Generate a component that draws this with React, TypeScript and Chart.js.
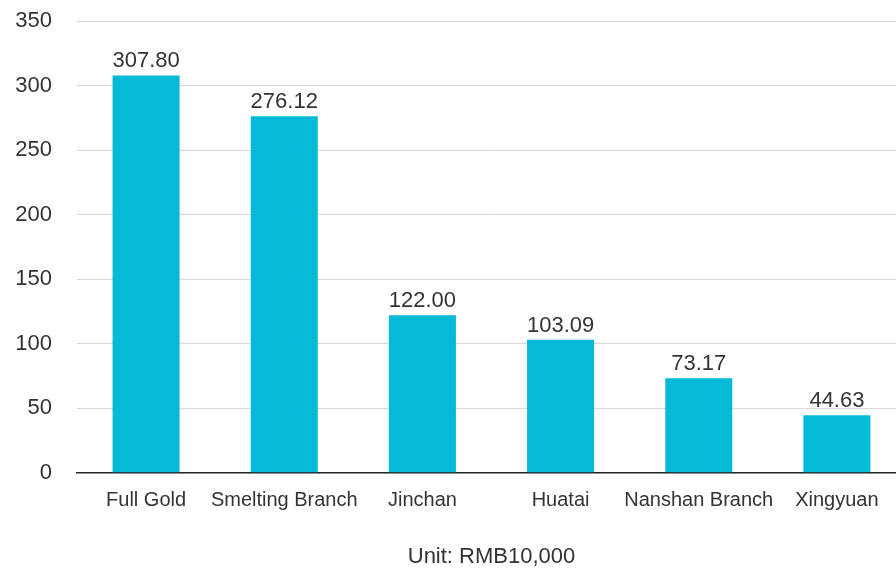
import React, { useEffect, useRef } from "react";
import { Chart, registerables } from "chart.js";

Chart.register(...registerables);

const categories = ["Full Gold", "Smelting Branch", "Jinchan", "Huatai", "Nanshan Branch", "Xingyuan"];
const values = [307.8, 276.12, 122.0, 103.09, 73.17, 44.63];
const yTicks = [0, 50, 100, 150, 200, 250, 300, 350];
const axisTitle = "Unit: RMB10,000";

const FONT = "'Liberation Sans', Arial, Helvetica, sans-serif";

const valueLabels = {
  id: "valueLabels",
  afterDatasetsDraw(chart: any) {
    const ctx = chart.ctx;
    const meta = chart.getDatasetMeta(0);
    ctx.save();
    ctx.font = `22px ${FONT}`;
    ctx.fillStyle = "#333333";
    ctx.textAlign = "center";
    ctx.textBaseline = "alphabetic";
    meta.data.forEach((bar: any, i: number) => {
      ctx.fillText(values[i].toFixed(2), bar.x, bar.y - 8);
    });
    ctx.restore();
  },
};

export default function App() {
  const ref = useRef<HTMLCanvasElement>(null);
  useEffect(() => {
    const chart = new Chart(ref.current!, {
      type: "bar",
      data: {
        labels: categories,
        datasets: [
          {
            data: values,
            backgroundColor: "#05BAD6",
            categoryPercentage: 1,
            barPercentage: 0.485,
          },
        ],
      },
      options: {
        animation: false,
        responsive: false,
        layout: { padding: { top: 21, right: 0, left: 0, bottom: 0 } },
        plugins: { legend: { display: false }, tooltip: { enabled: false } },
        scales: {
          x: {
            grid: { display: false, drawTicks: false },
            border: { display: true, color: "#222222", width: 1.5 },
            ticks: {
              color: "#333333",
              font: { family: FONT, size: 20 },
              padding: 16,
              maxRotation: 0,
              autoSkip: false,
            },
            title: {
              display: true,
              text: axisTitle,
              color: "#333333",
              font: { family: FONT, size: 22, lineHeight: 1.1 },
              padding: { top: 16, bottom: 1 },
            },
          },
          y: {
            min: 0,
            max: 350,
            afterBuildTicks: (scale: any) => {
              scale.ticks = yTicks.map((v) => ({ value: v }));
            },
            afterFit: (scale: any) => {
              scale.width = 77;
            },
            grid: {
              color: "#d9d9d9",
              lineWidth: 1,
              drawTicks: true,
              tickLength: 25,
              tickColor: "rgba(0,0,0,0)",
            },
            border: { display: false },
            ticks: {
              color: "#333333",
              font: { family: FONT, size: 22 },
              padding: 0,
            },
          },
        },
      },
      plugins: [valueLabels],
    });
    return () => chart.destroy();
  }, []);
  return (
    <div
      style={{
        position: "fixed",
        left: 0,
        top: 0,
        width: 896,
        height: 570,
        overflow: "hidden",
        background: "#ffffff",
      }}
    >
      <canvas ref={ref} width={906} height={570} style={{ display: "block" }} />
    </div>
  );
}
